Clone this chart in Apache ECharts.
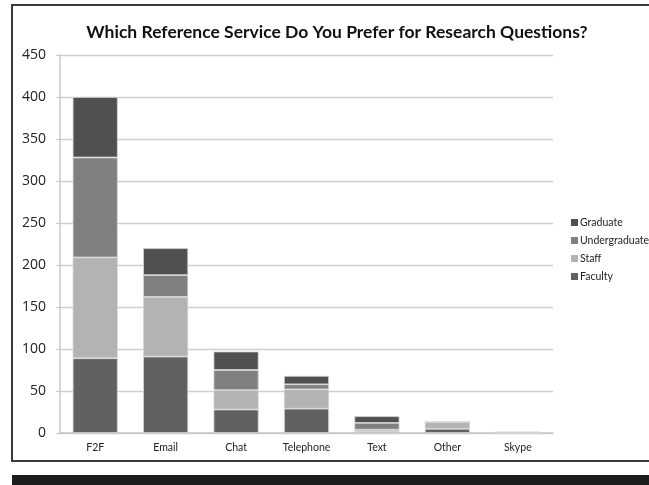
<!DOCTYPE html>
<html>
<head>
<meta charset="utf-8">
<script src="https://cdn.jsdelivr.net/npm/echarts@6/dist/echarts.min.js"></script>
<style>
html,body{margin:0;padding:0;background:#fff;}
#c{width:649px;height:485px;}
</style>
</head>
<body>
<div id="c"></div>
<script>
const categories = ['F2F', 'Email', 'Chat', 'Telephone', 'Text', 'Other', 'Skype'];
const faculty = [89, 91, 28, 29, 2, 5, 0];
const staff = [120, 71, 23, 23, 2, 8, 0];
const undergraduate = [119, 26, 24, 6, 8, 0, 1];
const graduate = [72, 32, 22, 10, 8, 0, 0];
const yTicks = { min: 0, max: 450, interval: 50 };

const chart = echarts.init(document.getElementById('c'), null, { renderer: 'canvas' });
const barStyle = (color) => ({ color: color, borderColor: '#d4d4d4', borderWidth: 0.8 });
chart.setOption({
  backgroundColor: '#ffffff',
  animation: false,
  title: {
    text: 'Which Reference Service Do You Prefer for Research Questions?',
    left: 332, top: 18, textAlign: 'center',
    textStyle: { fontFamily: 'Lato', fontWeight: 'bold', fontSize: 17.5, color: '#111' }
  },
  legend: {
    orient: 'vertical', left: 566, top: 212, itemWidth: 7, itemHeight: 7, itemGap: 7,
    icon: 'rect',
    itemStyle: { borderWidth: 0 },
    data: ['Graduate', 'Undergraduate', 'Staff', 'Faculty'],
    textStyle: { fontFamily: 'Lato', fontSize: 10.5, color: '#222', padding: [0, 0, 0, -3] }
  },
  grid: { left: 60, right: 96, top: 55, bottom: 52 },
  xAxis: {
    type: 'category', data: categories,
    axisLine: { lineStyle: { color: '#c8c8c8', width: 1.5 } },
    axisTick: { show: false },
    axisLabel: { fontFamily: 'Lato', fontSize: 10.5, color: '#222', margin: 9 }
  },
  yAxis: {
    type: 'value', min: yTicks.min, max: yTicks.max, interval: yTicks.interval,
    axisLine: { show: true, lineStyle: { color: '#c8c8c8', width: 1.5 } },
    axisTick: { show: true, length: 4, lineStyle: { color: '#c8c8c8' } },
    splitLine: { lineStyle: { color: '#cfcfcf', width: 1.3 } },
    axisLabel: { fontFamily: 'Open Sans', fontSize: 14, color: '#222', margin: 14 }
  },
  series: [
    { name: 'Faculty', type: 'bar', stack: 's', data: faculty, barWidth: '64%', itemStyle: barStyle('#616161') },
    { name: 'Staff', type: 'bar', stack: 's', data: staff, itemStyle: barStyle('#b3b3b3') },
    { name: 'Undergraduate', type: 'bar', stack: 's', data: undergraduate, itemStyle: barStyle('#7f8180') },
    { name: 'Graduate', type: 'bar', stack: 's', data: graduate, itemStyle: barStyle('#505050') }
  ],
  graphic: [
    { type: 'rect', shape: { x: 12, y: 5, width: 700, height: 456 }, style: { fill: 'none', stroke: '#3a3a3a', lineWidth: 2 }, silent: true },
    { type: 'rect', shape: { x: 12, y: 475, width: 700, height: 20 }, style: { fill: '#1c1c1c' }, silent: true }
  ]
});
</script>
</body>
</html>
